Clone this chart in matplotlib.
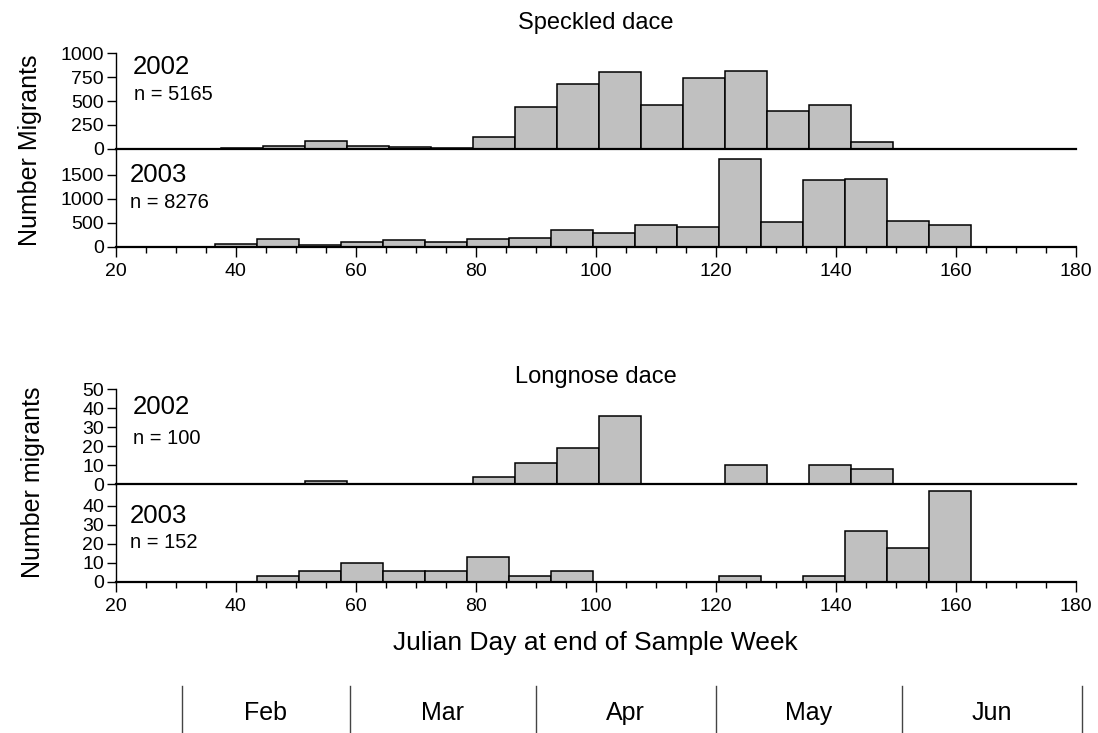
import matplotlib
matplotlib.use('Agg')
import matplotlib.pyplot as plt
import numpy as np

plt.rcParams['font.family'] = ['Liberation Sans', 'DejaVu Sans']

# weekly counts; each list starts at the given Julian day, bins are 7 days wide
bin_width = 7
speckled_2002_start = 37.5
speckled_2002 = [10, 31, 81, 31, 21, 7, 123, 442, 680, 805, 458, 742, 812, 395, 458, 70]
speckled_2003_start = 36.5
speckled_2003 = [62, 153, 28, 97, 139, 97, 160, 174, 340, 278, 444, 403, 1833, 507,
                 1382, 1417, 528, 444]
longnose_2002_start = 37.5
longnose_2002 = [0, 0, 2, 0, 0, 0, 4, 11, 19, 36, 0, 0, 10, 0, 10, 8]
longnose_2003_start = 36.5
longnose_2003 = [0, 3, 6, 10, 6, 6, 13, 3, 6, 0, 0, 0, 3, 0, 3, 27, 18, 48]

months = ['Feb', 'Mar', 'Apr', 'May', 'Jun']
month_bounds = [31, 59, 90, 120, 151, 181]

W, H = 1098, 733
fig = plt.figure(figsize=(W / 100, H / 100), dpi=100)

left = 115.7 / W
width = 960 / W


def px_axes(top, bottom):
    return fig.add_axes([left, 1 - bottom / H, width, (bottom - top) / H])


def draw_panel(ax, start, counts, ymax, yticks, bottom_axis):
    counts = np.array(counts, dtype=float)
    edges = start + bin_width * np.arange(len(counts))
    keep = counts > 0
    ax.bar(edges[keep], counts[keep], width=bin_width, align='edge',
           color='#c0c0c0', edgecolor='black', linewidth=1.1, zorder=2)
    ax.set_xlim(20, 180)
    ax.set_ylim(0, ymax)
    ax.set_yticks(yticks)
    ax.spines['top'].set_visible(False)
    ax.spines['right'].set_visible(False)
    ax.spines['left'].set_linewidth(1.0)
    ax.spines['bottom'].set_linewidth(1.6)
    ax.spines['bottom'].set_zorder(3)
    ax.tick_params(axis='y', direction='out', length=6.5, width=1.0, labelsize=14, pad=2)
    ax.patch.set_alpha(0)
    if bottom_axis:
        ax.set_xticks(np.arange(20, 181, 20))
        ax.set_xticks(np.arange(20, 181, 5), minor=True)
        ax.tick_params(axis='x', which='major', direction='out', length=7.5, width=1.0,
                       labelsize=14, pad=4)
        ax.tick_params(axis='x', which='minor', direction='out', length=4.5, width=1.0)
    else:
        ax.tick_params(axis='x', which='both', bottom=False, labelbottom=False)


# Speckled dace
ax1 = px_axes(53.3, 148.7)
draw_panel(ax1, speckled_2002_start, speckled_2002, 1000, [0, 250, 500, 750, 1000], False)
ax2 = px_axes(148.7, 246.7)
draw_panel(ax2, speckled_2003_start, speckled_2003, 2042, [0, 500, 1000, 1500], True)

# Longnose dace
ax3 = px_axes(389.3, 484.3)
draw_panel(ax3, longnose_2002_start, longnose_2002, 50, [0, 10, 20, 30, 40, 50], False)
ax4 = px_axes(484.3, 582.0)
draw_panel(ax4, longnose_2003_start, longnose_2003, 51.4, [0, 10, 20, 30, 40], True)

ax1.text(0.018, 0.86, '2002', transform=ax1.transAxes, fontsize=18.5, va='center')
ax1.text(0.019, 0.563, 'n = 5165', transform=ax1.transAxes, fontsize=14.5, va='center')
ax2.text(0.015, 0.732, '2003', transform=ax2.transAxes, fontsize=18.5, va='center')
ax2.text(0.015, 0.456, 'n = 8276', transform=ax2.transAxes, fontsize=14.5, va='center')
ax3.text(0.018, 0.817, '2002', transform=ax3.transAxes, fontsize=18.5, va='center')
ax3.text(0.018, 0.487, 'n = 100', transform=ax3.transAxes, fontsize=14.5, va='center')
ax4.text(0.015, 0.676, '2003', transform=ax4.transAxes, fontsize=18.5, va='center')
ax4.text(0.015, 0.40, 'n = 152', transform=ax4.transAxes, fontsize=14.5, va='center')

cx = left + width / 2
fig.text(cx, 1 - 23 / H, 'Speckled dace', ha='center', va='center', fontsize=17)
fig.text(cx, 1 - 377 / H, 'Longnose dace', ha='center', va='center', fontsize=17)
fig.text(30 / W, 1 - 150 / H, 'Number Migrants', rotation=90, ha='center', va='center',
         fontsize=18)
fig.text(33 / W, 1 - 482 / H, 'Number migrants', rotation=90, ha='center', va='center',
         fontsize=18)
fig.text(cx, 1 - 643 / H, 'Julian Day at end of Sample Week', ha='center', va='center',
         fontsize=19)

# month strip under the axis
axm = px_axes(686, 733)
axm.set_xlim(20, 180)
axm.set_ylim(0, 1)
axm.axis('off')
for b in month_bounds:
    axm.plot([b, b], [0, 1], color='#444444', linewidth=1.0, clip_on=False)
for i, m in enumerate(months):
    mid = (month_bounds[i] + month_bounds[i + 1]) / 2
    axm.text(mid, 0.43, m, ha='center', va='center', fontsize=18)

fig.savefig('out.png', dpi=100)
